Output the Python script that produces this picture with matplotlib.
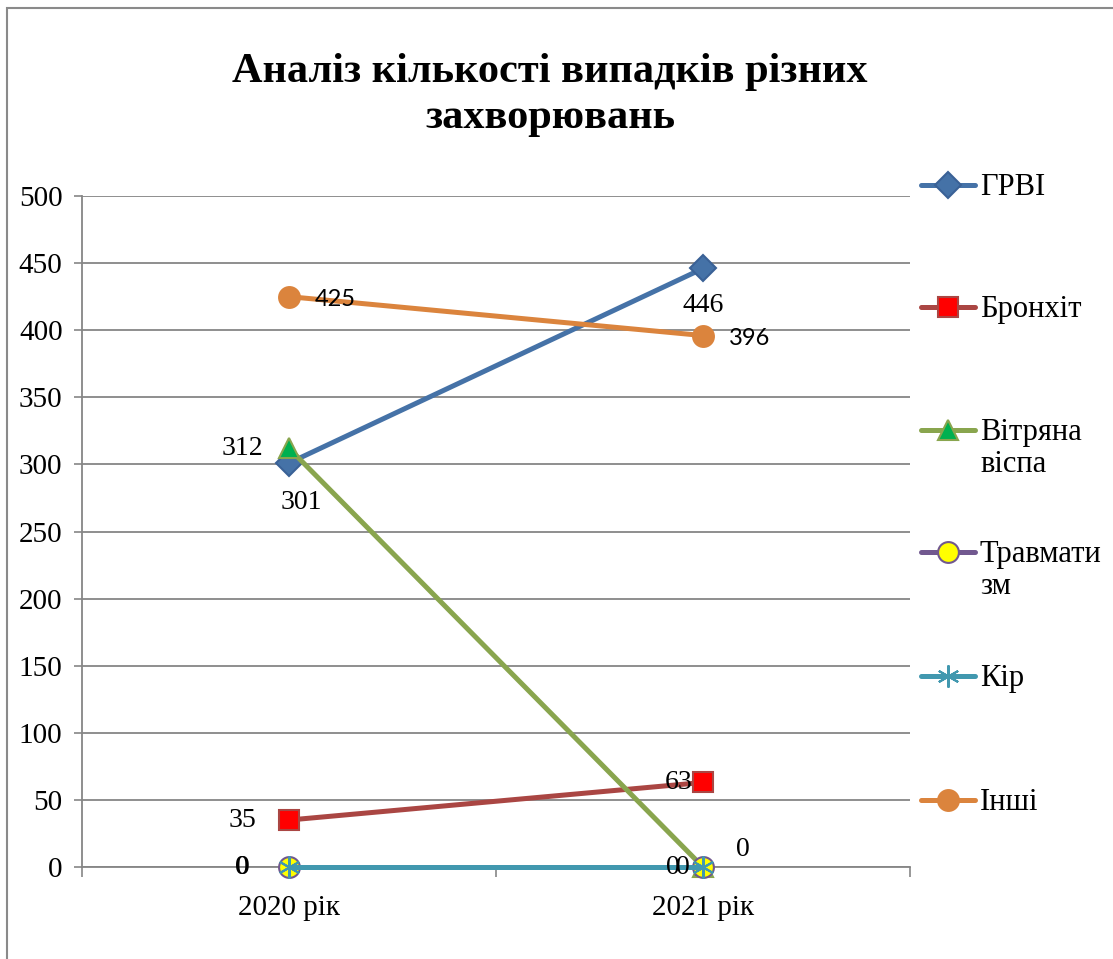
import matplotlib
matplotlib.use("Agg")
import matplotlib.pyplot as plt
from matplotlib.lines import Line2D
from matplotlib.patches import Rectangle

categories = ["2020 рік", "2021 рік"]
series_names = ["ГРВІ", "Бронхіт", "Вітряна віспа", "Травматизм", "Кір", "Інші"]
legend_labels = ["ГРВІ", "Бронхіт", "Вітряна\nвіспа", "Травмати\nзм", "Кір", "Інші"]
grvi = [301, 446]
bronhit = [35, 63]
vitryana = [312, 0]
travmatyzm = [0, 0]
kir = [0, 0]
inshi = [425, 396]
y_ticks = [0, 50, 100, 150, 200, 250, 300, 350, 400, 450, 500]
title = "Аналіз кількості випадків різних\nзахворювань"

serif = ["Liberation Serif", "DejaVu Serif"]
plt.rcParams['font.family'] = serif

W, H = 1113, 959
fig = plt.figure(figsize=(W / 100, H / 100), dpi=100)
fig.patch.set_facecolor("white")
fig.add_artist(Rectangle((7 / W, -0.1), 1.2, 1 - 8 / H + 0.1, transform=fig.transFigure,
                         fill=False, edgecolor="#8a8a8a", linewidth=1.5))

ax = fig.add_axes([82 / W, 1 - 867 / H, (910 - 82) / W, (867 - 196) / H])
x = list(range(len(categories)))

styles = [
    dict(data=grvi, color="#4572A7", marker="D", ms=13, mfc="#4572A7", mec="#3A6196"),
    dict(data=bronhit, color="#AA4643", marker="s", ms=15, mfc="#FF0000", mec="#AA4643"),
    dict(data=vitryana, color="#89A54E", marker="^", ms=15, mfc="#00B050", mec="#89A54E"),
    dict(data=travmatyzm, color="#71588F", marker="o", ms=15, mfc="#FFFF00", mec="#71588F"),
    dict(data=kir, color="#4198AF", marker=(6, 2, 0), ms=16, mfc="#4198AF", mec="#4198AF"),
    dict(data=inshi, color="#DB843D", marker="o", ms=15, mfc="#DB843D", mec="#DB843D"),
]
for i, (name, st) in enumerate(zip(series_names, styles)):
    ax.plot(x, st["data"], color=st["color"], lw=3.6, marker=st["marker"], ms=st["ms"],
            mfc=st["mfc"], mec=st["mec"], mew=1.5, label=name, zorder=3 + i,
            solid_capstyle="round", clip_on=False)

ax.set_xlim(-0.5, 1.5)
ax.set_ylim(0, 500)
ax.set_yticks(y_ticks)
ax.set_xticks(x)
ax.set_xticklabels(categories)
ax.set_xticks([-0.5, 0.5, 1.5], minor=True)
ax.tick_params(axis="x", which="major", length=0, labelsize=21, pad=20)
ax.tick_params(axis="x", which="minor", length=7, color="#868686", width=1.2)
ax.tick_params(axis="y", length=6, color="#868686", width=1.2, labelsize=21, pad=8)
ax.grid(axis="y", color="#868686", lw=1.3)
ax.set_axisbelow(True)
for s in ["top", "right"]:
    ax.spines[s].set_visible(False)
for s in ["left", "bottom"]:
    ax.spines[s].set_color("#868686")
    ax.spines[s].set_linewidth(1.3)
ax.spines["bottom"].set_zorder(2)

px = 0.72  # points per pixel
def lab(xi, yi, txt, dx, dy, fam=serif, size=20):
    # dx: pixels to the right, dy: pixels downward
    ax.annotate(txt, (xi, yi), xytext=(dx * px, -dy * px), textcoords="offset points",
                ha="center", va="center", fontsize=size, family=fam, zorder=20,
                annotation_clip=False)

sans = ["Lato", "DejaVu Sans"]
lab(0, grvi[0], str(grvi[0]), 12, 39)
lab(1, grvi[1], str(grvi[1]), 0, 37)
lab(0, bronhit[0], str(bronhit[0]), -47, 0)
lab(1, bronhit[1], str(bronhit[1]), -24, 0)
lab(0, vitryana[0], str(vitryana[0]), -47, 0)
lab(1, vitryana[1], str(vitryana[1]), -30, 0)
lab(0, travmatyzm[0], str(travmatyzm[0]), -47, 0)
lab(1, travmatyzm[1], str(travmatyzm[1]), 40, -17)
lab(0, kir[0], str(kir[0]), -46, 0)
lab(1, kir[1], str(kir[1]), -20, 0)
lab(0, inshi[0], str(inshi[0]), 46, 3, fam=sans, size=17)
lab(1, inshi[1], str(inshi[1]), 47, 3, fam=sans, size=17)

fig.text(550 / W, 1 - 95 / H, title, ha="center", va="center", fontsize=30.5,
         fontweight="bold", linespacing=1.25)

# legend drawn manually
leg_y = [185, 307, 430, 552, 676, 800]
for lbl, st, yy in zip(legend_labels, styles, leg_y):
    yf = 1 - yy / H
    fig.add_artist(Line2D([921 / W, 975 / W], [yf, yf], transform=fig.transFigure,
                          color=st["color"], lw=3.6, solid_capstyle="round"))
    fig.add_artist(Line2D([948 / W], [yf], transform=fig.transFigure, marker=st["marker"],
                          ms=st["ms"], mfc=st["mfc"], mec=st["mec"], mew=1.5, lw=0))
    fig.text(980 / W, 1 - (yy - 12) / H, lbl, ha="left", va="top", fontsize=22,
             linespacing=1.15)

fig.savefig("out.png", dpi=100, facecolor="white")
